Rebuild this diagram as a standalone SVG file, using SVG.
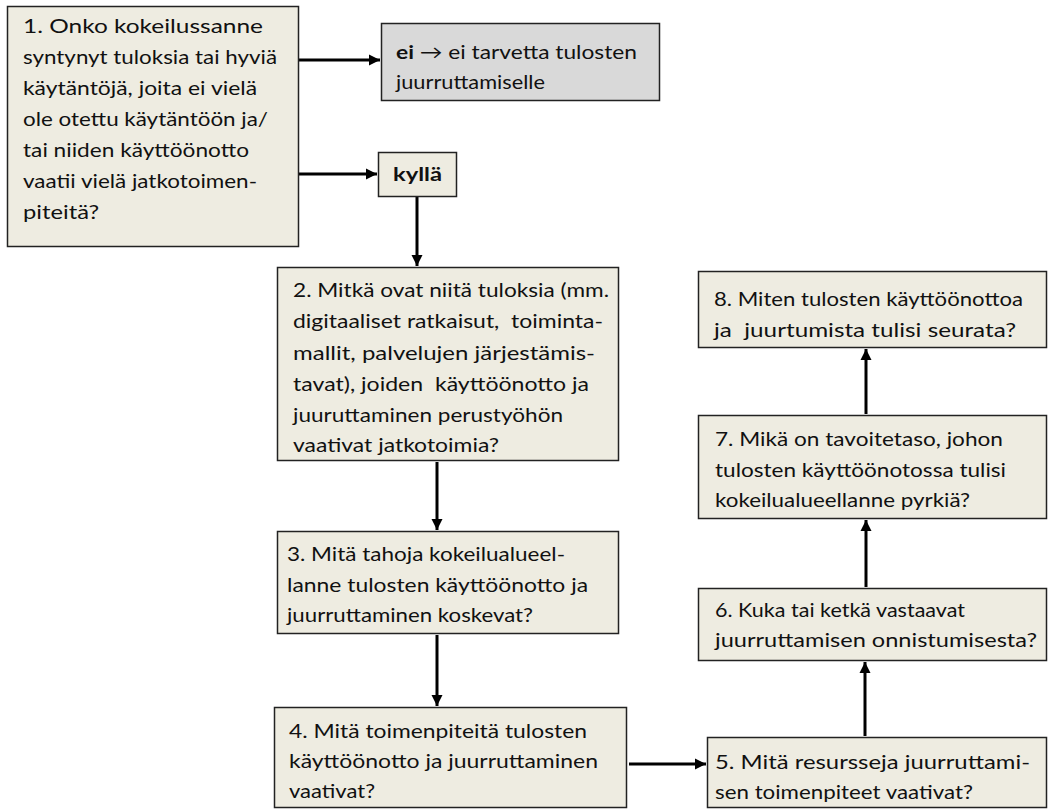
<svg xmlns="http://www.w3.org/2000/svg" width="1048" height="810" viewBox="0 0 1048 810">
<style>
.box{fill:#eeece1;stroke:#222;stroke-width:1.5}
.grey{fill:#d9d9d9;stroke:#222;stroke-width:1.5}
text{font-family:Lato,"Liberation Sans",sans-serif;font-size:19px;fill:#111}
.b{font-weight:bold}
.conn{stroke:#000;stroke-width:3;fill:none;marker-end:url(#ah)}
</style>
<defs>
<marker id="ah" markerUnits="userSpaceOnUse" markerWidth="12" markerHeight="12" refX="11" refY="6" orient="auto">
<path d="M0,0.5 L11,6 L0,11.5 z" fill="#000"/>
</marker>
</defs>
<rect width="1048" height="810" fill="#fff"/>
<g id="connectors">
<line class="conn" x1="299" y1="60" x2="380" y2="60"/>
<line class="conn" x1="299" y1="174" x2="377" y2="174"/>
<line class="conn" x1="417" y1="197" x2="417" y2="266"/>
<line class="conn" x1="437" y1="462" x2="437" y2="530"/>
<line class="conn" x1="437" y1="635" x2="437" y2="706"/>
<line class="conn" x1="629" y1="764" x2="706" y2="764"/>
<line class="conn" x1="865" y1="736" x2="865" y2="662"/>
<line class="conn" x1="866" y1="587" x2="866" y2="520"/>
<line class="conn" x1="866" y1="414" x2="866" y2="349"/>
</g>
<g id="n1">
<rect class="box" x="7.5" y="6.5" width="291" height="240"/>
<text x="23" y="33" textLength="240" lengthAdjust="spacingAndGlyphs">1. Onko kokeilussanne</text>
<text x="23" y="64" textLength="254" lengthAdjust="spacingAndGlyphs">syntynyt tuloksia tai hyviä</text>
<text x="23" y="95" textLength="234" lengthAdjust="spacingAndGlyphs">käytäntöjä, joita ei vielä</text>
<text x="23" y="126" textLength="245" lengthAdjust="spacingAndGlyphs">ole otettu käytäntöön ja/</text>
<text x="23" y="157" textLength="226" lengthAdjust="spacingAndGlyphs">tai niiden käyttöönotto</text>
<text x="23" y="188" textLength="234" lengthAdjust="spacingAndGlyphs">vaatii vielä jatkotoimen-</text>
<text x="23" y="219" textLength="76" lengthAdjust="spacingAndGlyphs">piteitä?</text>
</g>
<g id="n_ei">
<rect class="grey" x="381.5" y="23.5" width="278" height="77"/>
<text x="396" y="59" textLength="241" lengthAdjust="spacingAndGlyphs"><tspan class="b">ei</tspan> → ei tarvetta tulosten</text>
<text x="396" y="89" textLength="149" lengthAdjust="spacingAndGlyphs">juurruttamiselle</text>
</g>
<g id="n_kylla">
<rect class="box" x="378.5" y="152.5" width="78" height="44"/>
<text class="b" x="393" y="181" textLength="49" lengthAdjust="spacingAndGlyphs">kyllä</text>
</g>
<g id="n2">
<rect class="box" x="277.5" y="267.5" width="341" height="193"/>
<text x="293" y="297" textLength="316" lengthAdjust="spacingAndGlyphs">2. Mitkä ovat niitä tuloksia (mm.</text>
<text x="293" y="328" textLength="310" lengthAdjust="spacingAndGlyphs" xml:space="preserve">digitaaliset ratkaisut,  toiminta-</text>
<text x="293" y="360" textLength="302" lengthAdjust="spacingAndGlyphs">mallit, palvelujen järjestämis-</text>
<text x="293" y="391" textLength="296" lengthAdjust="spacingAndGlyphs" xml:space="preserve">tavat), joiden  käyttöönotto ja</text>
<text x="293" y="422" textLength="270" lengthAdjust="spacingAndGlyphs">juuruttaminen perustyöhön</text>
<text x="293" y="452" textLength="206" lengthAdjust="spacingAndGlyphs">vaativat jatkotoimia?</text>
</g>
<g id="n3">
<rect class="box" x="277.5" y="531.5" width="341" height="102"/>
<text x="287" y="561" textLength="278" lengthAdjust="spacingAndGlyphs">3. Mitä tahoja kokeilualueel-</text>
<text x="287" y="592" textLength="301" lengthAdjust="spacingAndGlyphs">lanne tulosten käyttöönotto ja</text>
<text x="287" y="622" textLength="246" lengthAdjust="spacingAndGlyphs">juurruttaminen koskevat?</text>
</g>
<g id="n4">
<rect class="box" x="274.5" y="707.5" width="352" height="100"/>
<text x="289" y="738" textLength="298" lengthAdjust="spacingAndGlyphs">4. Mitä toimenpiteitä tulosten</text>
<text x="289" y="768" textLength="309" lengthAdjust="spacingAndGlyphs">käyttöönotto ja juurruttaminen</text>
<text x="289" y="798" textLength="86" lengthAdjust="spacingAndGlyphs">vaativat?</text>
</g>
<g id="n5">
<rect class="box" x="707.5" y="737.5" width="339" height="70"/>
<text x="715" y="769" textLength="315" lengthAdjust="spacingAndGlyphs">5. Mitä resursseja juurruttami-</text>
<text x="715" y="799" textLength="258" lengthAdjust="spacingAndGlyphs">sen toimenpiteet vaativat?</text>
</g>
<g id="n6">
<rect class="box" x="698.5" y="588.5" width="348" height="72"/>
<text x="715" y="617" textLength="250" lengthAdjust="spacingAndGlyphs">6. Kuka tai ketkä vastaavat</text>
<text x="715" y="647" textLength="322" lengthAdjust="spacingAndGlyphs">juurruttamisen onnistumisesta?</text>
</g>
<g id="n7">
<rect class="box" x="698.5" y="415.5" width="348" height="103"/>
<text x="715" y="446" textLength="288" lengthAdjust="spacingAndGlyphs">7. Mikä on tavoitetaso, johon</text>
<text x="715" y="477" textLength="291" lengthAdjust="spacingAndGlyphs">tulosten käyttöönotossa tulisi</text>
<text x="715" y="507" textLength="255" lengthAdjust="spacingAndGlyphs">kokeilualueellanne pyrkiä?</text>
</g>
<g id="n8">
<rect class="box" x="698.5" y="271.5" width="348" height="76"/>
<text x="714" y="306" textLength="309" lengthAdjust="spacingAndGlyphs">8. Miten tulosten käyttöönottoa</text>
<text x="714" y="337" textLength="302" lengthAdjust="spacingAndGlyphs" xml:space="preserve">ja  juurtumista tulisi seurata?</text>
</g>
</svg>
